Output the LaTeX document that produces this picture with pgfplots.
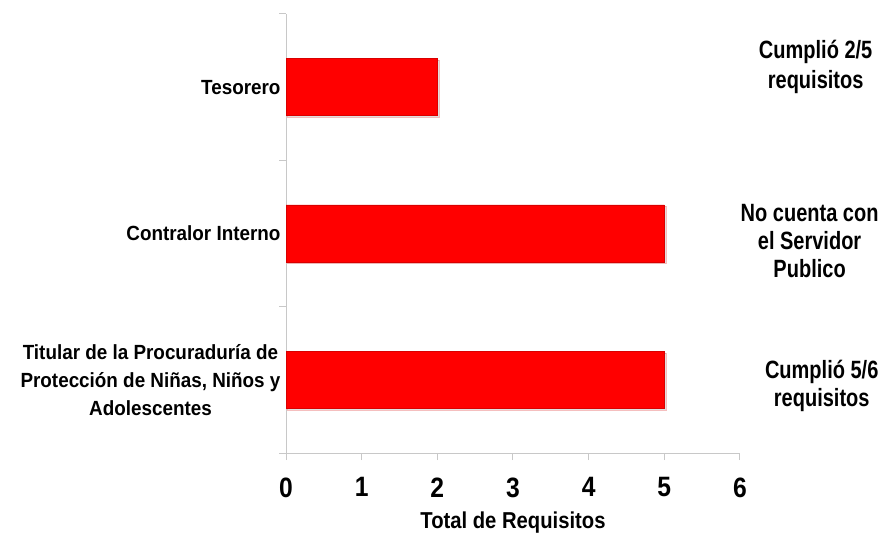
\documentclass[border=0pt]{standalone}
\usepackage{pgfplots}
\pgfplotsset{compat=1.18}
\usetikzlibrary{shadows}
\usepackage{fontspec}
\setmainfont{Liberation Sans}[FakeStretch=0.92]
\newfontfamily\narrowfont{Liberation Sans}[FakeStretch=0.80]
\newfontfamily\tickfont{Liberation Sans}[FakeStretch=0.88]
\definecolor{barred}{HTML}{FF0000}
\definecolor{axgray}{HTML}{C8C8C8}
\begin{document}
\begin{tikzpicture}
\useasboundingbox (0,0) rectangle (886pt,533pt);
\begin{axis}[
  at={(286pt,80pt)}, anchor=south west,
  scale only axis, width=454pt, height=439pt,
  xbar, bar width=57pt,
  xmin=0, xmax=6, ymin=-0.5, ymax=2.5,
  clip=false,
  axis x line*=bottom, axis y line*=left,
  axis line style={axgray, line width=1pt},
  every tick/.style={axgray, line width=1pt},
  tick align=outside, major tick length=7pt,
  xtick={0,...,6},
  ytick={-0.5,0.5,1.5,2.5}, yticklabels={},
  extra y ticks={0,1,2},
  extra y tick labels={{Titular de la Procuraduría de\\Protección de Niñas, Niños y\\Adolescentes},{Contralor Interno},{Tesorero}},
  extra y tick style={major tick length=0pt},
  yticklabel style={align=center, font=\fontsize{20.5}{28}\selectfont\bfseries, xshift=-2pt},
  xticklabel style={font=\fontsize{28}{28}\tickfont\bfseries, yshift=-14pt},
  /pgf/number format/assume math mode=true,
  xlabel={Total de Requisitos},
  xlabel style={font=\fontsize{23}{23}\tickfont\bfseries, yshift=-8pt},
]
\addplot[fill=barred, draw=barred!85!black, line width=0.4pt,
  drop shadow={shadow xshift=1.5pt, shadow yshift=-1.5pt, opacity=0.25}]
  coordinates {(5,0) (5,1) (2,2)};
\node[align=center, font=\fontsize{25}{30}\narrowfont\bfseries] at (axis cs:7.0,2.14) {Cumplió 2/5\\requisitos};
\node[align=center, font=\fontsize{25}{28}\narrowfont\bfseries] at (axis cs:6.92,0.95) {No cuenta con\\el Servidor\\Publico};
\node[align=center, font=\fontsize{25}{28}\narrowfont\bfseries] at (axis cs:7.08,-0.04) {Cumplió 5/6\\requisitos};
\end{axis}
\end{tikzpicture}
\end{document}
